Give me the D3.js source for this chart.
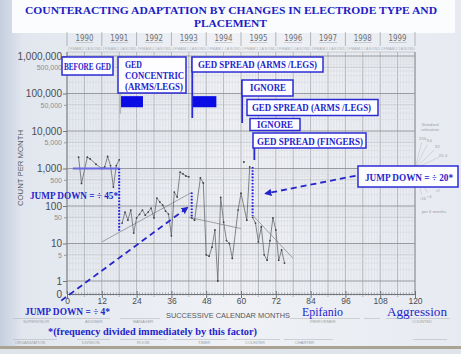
<!DOCTYPE html>
<html><head><meta charset="utf-8">
<script src="https://cdn.jsdelivr.net/npm/d3@7"></script>
<style>body{margin:0;background:#fff}svg{display:block}</style>
</head><body>
<svg id="c" width="461" height="354"></svg>
<script>
// ---------------- DATA ----------------
const majorTicks = [1, 10, 100, 1000, 10000, 100000, 1000000];
const minorTicks = [5, 50, 500, 5000, 50000, 500000];
const monthTicks = [0, 12, 24, 36, 48, 60, 72, 84, 96, 108, 120];
const years = ["1990","1991","1992","1993","1994","1995","1996","1997","1998","1999"];
const monthLetters = ["J","F","M","A","M","J","J","A","S","O","N","D"];

// Before GED
const segAMonths = [4, 5, 7, 8, 10, 12, 13, 14, 15, 16, 17, 18];
const segACounts = [2000, 400, 2000, 1800, 1300, 1000, 1100, 2100, 1200, 320, 1200, 1700];
// GED concentric (arms/legs)
const segBMonths = [19, 20, 21, 22, 23, 24, 25, 26, 27, 28, 29, 30, 31, 32, 33, 34, 35, 36, 37, 38, 39, 40, 41, 42];
const segBCounts = [35, 69, 42, 78, 19, 48, 60, 78, 57, 69, 88, 48, 163, 128, 106, 73, 61, 16, 235, 174, 800, 715, 630, 600];
// GED spread (arms/legs)
const segCMonths = [43, 44, 46, 47, 48, 49, 50, 51, 52, 53, 54, 55, 56, 57, 59, 60, 62, 63];
const segCCounts = [48, 42, 560, 410, 5, 4.6, 8, 23, 1, 170, 37, 12, 10, 4, 78, 220, 42, 1100];
// GED spread (fingers)
const segDMonths = [64, 65, 66, 67, 68, 69, 70, 71, 72, 73, 74, 75];
const segDCounts = [50, 35, 11, 28, 5, 3.6, 12, 48, 23, 3.6, 6.7, 3];
const isolatedPoint = [[61, 1500]];

// median / celeration lines [month, count]
const medianA = [[2, 1000], [18, 1000]];
const trendB = [[12, 11], [43, 230]];
const trendC = [[42, 50], [60, 25]];
const trendD = [[64, 57], [78, 4]];

// jumps: month, from, to
const jumps = [[18, 1000, 22], [43, 230, 48], [64, 1100, 55]];
// dashed arrows: start -> end (arrow head at end)
const arrowJump4 = [[-2, 0.3], [41.5, 90]];
const arrowJump20 = [[99.5, 640], [68.5, 215]];
// filled phase markers: [month0, month1, countTop, countBottom]
const phaseBlocks = [[18.3, 26.2, 85000, 43000], [43.2, 51.5, 85000, 43000]];

// celeration fan
const celerations = [16, 4, 2, 1.4, 1, 1/1.4, 1/2, 1/4, 1/16];
const celLabels = ["X16", "X4", "X2", "X1.4", "", "÷1.4", "÷2", "÷4", "÷16"];

// ---------------- DRAW ----------------
const svg = d3.select("#c");
const blue = "#2424cc";
const defs = svg.append("defs");
const g1 = defs.append("linearGradient").attr("id", "bg").attr("x1", 0).attr("x2", 1).attr("y1", 0).attr("y2", 0);
[[0, "#c5cede"], [0.05, "#e2e7ef"], [0.5, "#eff1f5"], [1, "#e7ebf1"]].forEach(s => g1.append("stop").attr("offset", s[0]).attr("stop-color", s[1]));
defs.append("marker").attr("id", "ah").attr("viewBox", "0 0 10 10").attr("refX", 8).attr("refY", 5)
  .attr("markerWidth", 4).attr("markerHeight", 4).attr("orient", "auto")
  .append("path").attr("d", "M0,0 L10,5 L0,10 z").attr("fill", blue);

svg.append("rect").attr("width", 461).attr("height", 354).attr("fill", "url(#bg)");
svg.append("rect").attr("x", 12).attr("y", 0).attr("width", 443).attr("height", 33).attr("fill", "#fbfcfe");
svg.append("rect").attr("x", 0).attr("y", 346).attr("width", 461).attr("height", 3).attr("fill", "#aaa293");
svg.append("rect").attr("x", 0).attr("y", 349).attr("width", 461).attr("height", 5).attr("fill", "#dfe3ea");

const x = d3.scaleLinear().domain([0, 120]).range([67, 415]);
const y = d3.scaleLog().domain([1, 1e6]).range([281, 56]);
const zeroY = 294;
const topY = 52;

// grid
const grid = svg.append("g");
d3.range(0, 121).forEach(m => {
  grid.append("line").attr("x1", x(m)).attr("x2", x(m)).attr("y1", topY).attr("y2", zeroY)
    .attr("stroke", m % 6 === 0 ? "#a3a6aa" : "#d6d8dc").attr("stroke-width", m % 6 === 0 ? 0.8 : 0.5);
});
const hv = [];
for (let k = 0; k < 6; k++) for (let d = 1; d <= 9; d++) hv.push([d * Math.pow(10, k), d]);
hv.push([1e6, 1]);
hv.forEach(([v, d]) => {
  grid.append("line").attr("x1", x(0)).attr("x2", x(120)).attr("y1", y(v)).attr("y2", y(v))
    .attr("stroke", d === 1 ? "#8f9296" : (d === 5 ? "#b4b7bb" : "#d4d6da")).attr("stroke-width", d === 1 ? 0.9 : 0.55);
});
grid.append("line").attr("x1", x(0)).attr("x2", x(120)).attr("y1", topY).attr("y2", topY).attr("stroke", "#b0b3b7").attr("stroke-width", 0.6);
grid.append("line").attr("x1", x(0)).attr("x2", x(0)).attr("y1", topY).attr("y2", zeroY).attr("stroke", "#7d8084").attr("stroke-width", 1);
grid.append("line").attr("x1", x(120)).attr("x2", x(120)).attr("y1", topY).attr("y2", zeroY).attr("stroke", "#8d9094").attr("stroke-width", 0.9);

// top month row and years
const topG = svg.append("g").attr("font-family", "Liberation Sans, sans-serif");
d3.range(0, 120).forEach(m => {
  topG.append("text").attr("x", x(m + 0.5)).attr("y", 50).attr("text-anchor", "middle")
    .attr("font-size", 3.6).attr("fill", "#a8abb0").text(monthLetters[m % 12]);
});
d3.range(0, 11).forEach(i => {
  topG.append("line").attr("x1", x(i * 12)).attr("x2", x(i * 12)).attr("y1", 32).attr("y2", 46)
    .attr("stroke", "#9a9da1").attr("stroke-width", 0.7);
});
years.forEach((yr, i) => {
  topG.append("text").attr("x", x(i * 12 + 6)).attr("y", 41).attr("text-anchor", "middle")
    .attr("font-family", "DejaVu Sans, sans-serif").attr("font-size", 8.5).attr("fill", "#6e7176")
    .attr("textLength", 18).attr("lengthAdjust", "spacingAndGlyphs").text(yr);
  topG.append("line").attr("x1", x(i * 12 + 6) - 9).attr("x2", x(i * 12 + 6) + 9).attr("y1", 42.5).attr("y2", 42.5)
    .attr("stroke", "#a5a8ad").attr("stroke-width", 0.5);
});

// y axis
const yAx = svg.append("g").attr("transform", `translate(${x(0)},0)`)
  .call(d3.axisLeft(y).tickValues(majorTicks).tickFormat(d3.format(",")).tickSize(4).tickPadding(1));
yAx.select(".domain").remove();
yAx.selectAll("text").attr("font-family", "Liberation Sans, sans-serif").attr("font-size", 10).attr("fill", "#4a4d52");
yAx.selectAll("line").attr("stroke", "#777");
const yAx2 = svg.append("g").attr("transform", `translate(${x(0)},0)`)
  .call(d3.axisLeft(y).tickValues(minorTicks).tickFormat(d3.format(",")).tickSize(3).tickPadding(2));
yAx2.select(".domain").remove();
yAx2.selectAll("text").attr("font-family", "Liberation Sans, sans-serif").attr("font-size", 7).attr("fill", "#8a8d92");
yAx2.selectAll("line").attr("stroke", "#999");
svg.append("text").attr("x", x(0) - 5).attr("y", zeroY + 3.5).attr("text-anchor", "end")
  .attr("font-family", "Liberation Sans, sans-serif").attr("font-size", 10).attr("fill", "#4a4d52").text("0");
svg.append("text").attr("transform", "translate(23,168) rotate(-90)").attr("text-anchor", "middle")
  .attr("font-family", "Liberation Sans, sans-serif").attr("font-size", 7.5).attr("fill", "#55585d")
  .attr("textLength", 76).attr("lengthAdjust", "spacingAndGlyphs").text("COUNT PER MONTH");

// x axis
const xAx = svg.append("g").attr("transform", `translate(0,${zeroY})`)
  .call(d3.axisBottom(x).tickValues(monthTicks).tickSize(4).tickPadding(0));
xAx.select(".domain").attr("stroke", "#6f7277");
xAx.selectAll("line").attr("stroke", "#6f7277").attr("y1", -3);
xAx.selectAll("text").attr("font-family", "Liberation Sans, sans-serif").attr("font-size", 8.5).attr("fill", "#4a4d52");
d3.range(0, 121).forEach(m => {
  if (m % 12) svg.append("line").attr("x1", x(m)).attr("x2", x(m)).attr("y1", zeroY - 1.5).attr("y2", zeroY + (m % 6 ? 1.5 : 3))
    .attr("stroke", "#7f8287").attr("stroke-width", 0.6);
});
svg.append("text").attr("x", 166).attr("y", 318).attr("font-family", "Liberation Sans, sans-serif")
  .attr("font-size", 7.5).attr("fill", "#55585d").attr("textLength", 124).attr("lengthAdjust", "spacingAndGlyphs")
  .text("SUCCESSIVE CALENDAR MONTHS");

// form lines + labels
const form = svg.append("g").attr("stroke", "#b6b9bd").attr("stroke-width", 0.6);
[[13, 110], [120, 160], [290, 360], [364, 380], [386, 450]].forEach(s => form.append("line").attr("x1", s[0]).attr("x2", s[1]).attr("y1", 318.5).attr("y2", 318.5));
[[13, 57], [77, 110], [120, 167], [173, 227], [233, 280], [284, 333], [413, 447]].forEach(s => form.append("line").attr("x1", s[0]).attr("x2", s[1]).attr("y1", 339.5).attr("y2", 339.5));
const fl = svg.append("g").attr("font-family", "Liberation Sans, sans-serif").attr("font-size", 4).attr("fill", "#9b9ea3");
[["SUPERVISOR", 23, 323], ["ADVISER", 85, 323], ["MANAGER", 133, 323], ["PERFORMER", 310, 323], ["COUNTED", 412, 323],
 ["ORGANIZATION", 15, 344], ["DIVISION", 82, 344], ["ROOM", 137, 344], ["TIMER", 198, 344], ["COUNTER", 245, 344], ["CHARTER", 295, 344]]
  .forEach(t => fl.append("text").attr("x", t[1]).attr("y", t[2]).text(t[0]));

// celeration fan
const fan = svg.append("g");
const fx = x(120), fy = y(1000);
celerations.forEach((c, i) => {
  const dx = x(4) - x(0), dy = y(c) - y(1);
  const L = Math.hypot(dx, dy), len = 27;
  const ux = dx / L, uy = dy / L;
  fan.append("line").attr("x1", fx).attr("y1", fy).attr("x2", fx + ux * len).attr("y2", fy + uy * len)
    .attr("stroke", "#b9bcc0").attr("stroke-width", 0.5);
  if (celLabels[i]) {
    const dist = c < 1 && c > 0.6 ? len + 9 : len + 4;
    fan.append("text").attr("x", fx + ux * dist).attr("y", fy + uy * dist + 1.5).attr("text-anchor", "middle")
      .attr("font-family", "Liberation Sans, sans-serif").attr("font-size", 4.2).attr("fill", "#9b9ea3").text(celLabels[i]);
  }
});
fan.append("text").attr("x", 430).attr("y", 126).attr("text-anchor", "middle").attr("font-family", "Liberation Sans, sans-serif")
  .attr("font-size", 4.2).attr("fill", "#9b9ea3").text("Standard");
fan.append("text").attr("x", 430).attr("y", 131).attr("text-anchor", "middle").attr("font-family", "Liberation Sans, sans-serif")
  .attr("font-size", 4.2).attr("fill", "#9b9ea3").text("celeration");
fan.append("text").attr("x", 434).attr("y", 213).attr("text-anchor", "middle").attr("font-family", "Liberation Sans, sans-serif")
  .attr("font-size", 4.2).attr("fill", "#9b9ea3").text("per 6 months");

// data
const line = d3.line().x(d => x(d[0])).y(d => y(d[1]));
const zip = (a, b) => a.map((m, i) => [m, b[i]]);
const segs = [zip(segAMonths, segACounts), zip(segBMonths, segBCounts), zip(segCMonths, segCCounts), zip(segDMonths, segDCounts)];
[trendB, trendC, trendD].forEach(t => svg.append("path").attr("d", line(t)).attr("fill", "none").attr("stroke", "#8a8d92").attr("stroke-width", 0.8));
segs.forEach(s => {
  svg.append("path").attr("d", line(s)).attr("fill", "none").attr("stroke", "#5d6065").attr("stroke-width", 0.75);
  svg.selectAll(null).data(s).enter().append("circle").attr("cx", d => x(d[0])).attr("cy", d => y(d[1])).attr("r", 0.9).attr("fill", "#3e4145");
});
svg.selectAll(null).data(isolatedPoint).enter().append("circle").attr("cx", d => x(d[0])).attr("cy", d => y(d[1])).attr("r", 1).attr("fill", "#3e4145");

svg.append("path").attr("d", line(medianA)).attr("stroke", "#6868e0").attr("stroke-width", 1.8).attr("fill", "none");
jumps.forEach(j => svg.append("line").attr("x1", x(j[0])).attr("x2", x(j[0])).attr("y1", y(j[1])).attr("y2", y(j[2]))
  .attr("stroke", "#1f1fe6").attr("stroke-width", 2).attr("stroke-dasharray", "1.6,1.6"));
[arrowJump4, arrowJump20].forEach(a => svg.append("path").attr("d", line(a)).attr("fill", "none").attr("stroke", blue)
  .attr("stroke-width", 1.8).attr("stroke-dasharray", "6,4").attr("marker-end", "url(#ah)"));
phaseBlocks.forEach(b => svg.append("rect").attr("x", x(b[0])).attr("y", y(b[2])).attr("width", x(b[1]) - x(b[0])).attr("height", y(b[3]) - y(b[2])).attr("fill", "#0b0be6"));

// phase lines from boxes
svg.append("line").attr("x1", x(18.3)).attr("x2", x(18.3)).attr("y1", 92).attr("y2", 114).attr("stroke", "#b7b9bf").attr("stroke-width", 2);
[[43.2, 57, 118], [60.4, 80, 123], [64.6, 133, 160]].forEach(p => svg.append("line").attr("x1", x(p[0])).attr("x2", x(p[0]))
  .attr("y1", p[1]).attr("y2", p[2]).attr("stroke", "#2b2bd6").attr("stroke-width", 1.8));

// annotation boxes
const boxes = [
  {x0: 62, y0: 57, x1: 113, y1: 75, lines: [["BEFORE GED", 64, 70, 47]]},
  {x0: 118, y0: 57, x1: 186, y1: 93, lines: [["GED", 125, 68, 17], ["CONCENTRIC", 125, 79, 59], ["(ARMS/LEGS)", 125, 89.5, 58]]},
  {x0: 192, y0: 57, x1: 323, y1: 72, lines: [["GED SPREAD (ARMS /LEGS)", 198, 67.5, 119]]},
  {x0: 242, y0: 80, x1: 293, y1: 96, lines: [["IGNORE", 250, 91, 36]]},
  {x0: 247, y0: 99.5, x1: 378, y1: 115.5, lines: [["GED SPREAD (ARMS /LEGS)", 252, 111, 119]]},
  {x0: 250, y0: 118.5, x1: 300, y1: 130.5, lines: [["IGNORE", 257, 128, 36]]},
  {x0: 253, y0: 133, x1: 366, y1: 148, lines: [["GED SPREAD (FINGERS)", 257, 144.5, 106]]},
  {x0: 358, y0: 166, x1: 458, y1: 187, lines: [["JUMP DOWN = ÷ 20*", 365, 180.5, 88]]}
];
boxes.forEach(b => {
  svg.append("rect").attr("x", b.x0).attr("y", b.y0).attr("width", b.x1 - b.x0).attr("height", b.y1 - b.y0)
    .attr("fill", "#fdfdff").attr("stroke", "#2b2bd6").attr("stroke-width", 1.5);
  b.lines.forEach(l => svg.append("text").attr("x", l[1]).attr("y", l[2]).attr("font-family", "Liberation Serif, serif")
    .attr("font-weight", "bold").attr("font-size", 9.5).attr("fill", blue).attr("textLength", l[3]).attr("lengthAdjust", "spacingAndGlyphs").text(l[0]));
});

// free texts
const ft = [
  ["JUMP DOWN = ÷ 45*", 30, 199, 88, 9.5, "bold"],
  ["JUMP DOWN = ÷ 4*", 25, 315, 85, 9.5, "bold"],
  ["*(frequency divided immediately by this factor)", 48, 335, 209, 9.5, "bold"],
  ["Epifanio", 302, 316, 41, 11.5, "normal"],
  ["Aggression", 387, 316, 60, 11.5, "normal"]
];
ft.forEach(t => svg.append("text").attr("x", t[1]).attr("y", t[2]).attr("font-family", "Liberation Serif, serif")
  .attr("font-weight", t[5]).attr("font-size", t[4]).attr("fill", blue).attr("textLength", t[3]).attr("lengthAdjust", "spacingAndGlyphs").text(t[0]));

// title
svg.append("text").attr("x", 25).attr("y", 14).attr("font-family", "Liberation Serif, serif").attr("font-weight", "bold")
  .attr("font-size", 10.5).attr("fill", "#2020c4").attr("textLength", 412).attr("lengthAdjust", "spacingAndGlyphs")
  .text("COUNTERACTING ADAPTATION BY CHANGES IN ELECTRODE TYPE AND");
svg.append("text").attr("x", 194).attr("y", 27).attr("font-family", "Liberation Serif, serif").attr("font-weight", "bold")
  .attr("font-size", 10.5).attr("fill", "#2020c4").attr("textLength", 73).attr("lengthAdjust", "spacingAndGlyphs")
  .text("PLACEMENT");
</script>
</body></html>
